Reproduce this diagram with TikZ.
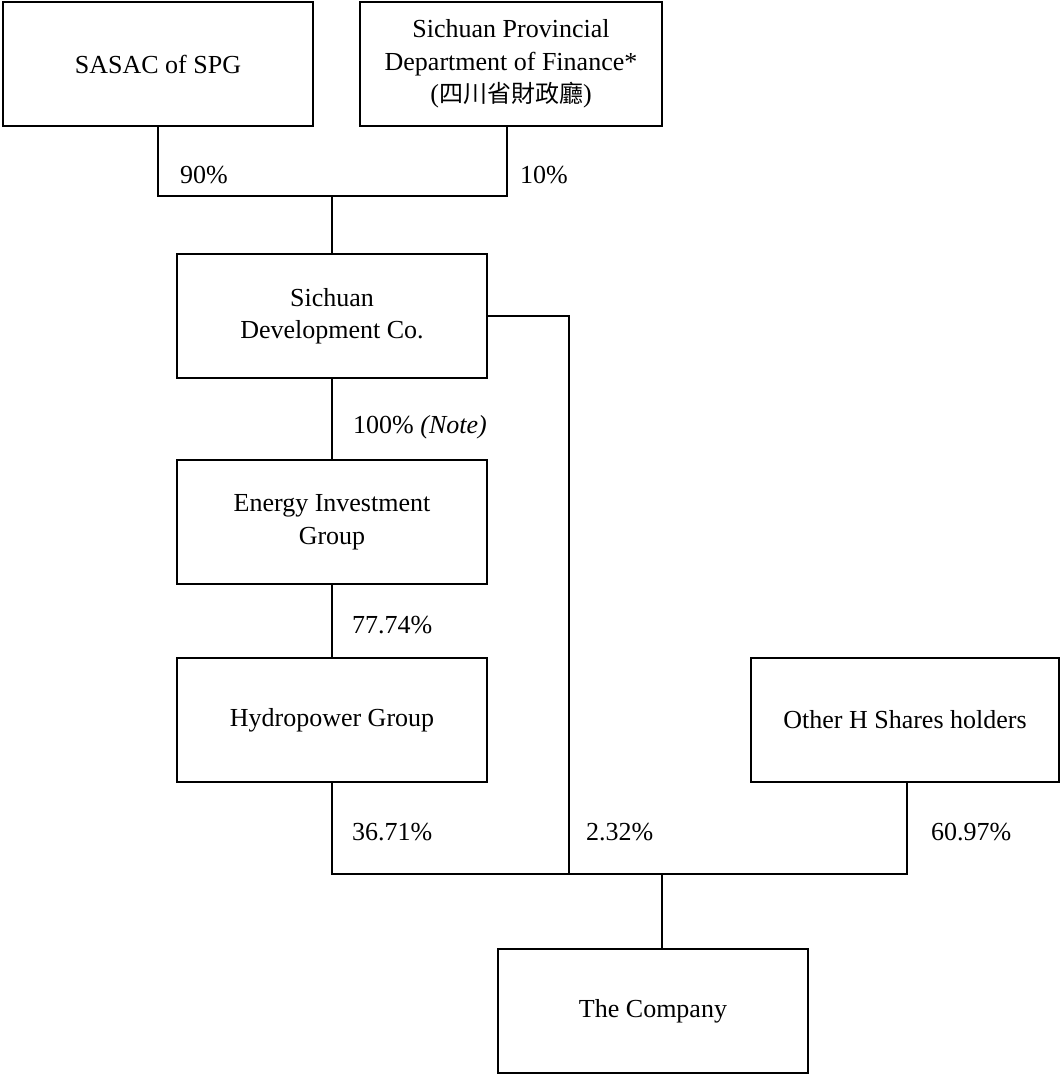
\documentclass[tikz,border=0pt]{standalone}
\usepackage{fontspec}
\setmainfont{Liberation Serif}
\newfontfamily\cjk{Noto Sans CJK TC}
\begin{document}
\begin{tikzpicture}[x=1pt,y=-1pt,
  every node/.style={font=\fontsize{26}{32.5}\selectfont, inner sep=0pt},
  entity/.style={draw, line width=1.3pt, rectangle, minimum width=310pt, minimum height=124pt, align=center},
  pct/.style={anchor=base west},
  link/.style={line width=1.3pt}]
\useasboundingbox (0,0) rectangle (1061,1076);
\node[entity] (sasac) at (158,64) {SASAC of SPG};
\node[entity, minimum width=302pt] (prov) at (511,64) {Sichuan Provincial\\Department of Finance*\\({\cjk\fontsize{24}{32}\selectfont 四川省財政廳})};
\node[entity] (dev) at (332,316) {Sichuan\\Development Co.};
\node[entity] (energy) at (332,522) {Energy Investment\\Group};
\node[entity] (hydro) at (332,720) {Hydropower Group};
\node[entity, minimum width=308pt] (other) at (905,720) {Other H Shares holders};
\node[entity] (company) at (653,1011) {The Company};

\coordinate (j1) at (332,196);
\coordinate (j2) at (569,874);
\coordinate (j4) at (662,874);

\draw[link] (sasac.south) |- ([xshift=-4pt]prov.south |- j1) -- ([xshift=-4pt]prov.south);
\draw[link] (j1) -- (dev.north);
\draw[link] (dev.east) -| (j2);
\draw[link] (dev.south) -- (energy.north);
\draw[link] (energy.south) -- (hydro.north);
\draw[link] (hydro.south) |- (j2) -| ([xshift=2pt]other.south);
\draw[link] (j4) -- (j4 |- company.north);

\node[pct] (l90) at (180,183) {90\%};
\node[pct] (l10) at (520,183) {10\%};
\node[pct] (l100) at (353,433) {100\% \textit{(Note)}};
\node[pct] (l77) at (352,633) {77.74\%};
\node[pct] (l36) at (352,840) {36.71\%};
\node[pct] (l2) at (586,840) {2.32\%};
\node[pct] (l60) at (931,840) {60.97\%};
\end{tikzpicture}
\end{document}
